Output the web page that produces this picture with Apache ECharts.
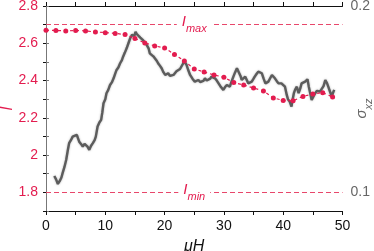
<!DOCTYPE html>
<html>
<head>
<meta charset="utf-8">
<script src="https://cdn.jsdelivr.net/npm/echarts@6/dist/echarts.min.js"></script>
<style>html,body{margin:0;padding:0;background:#fff}#c{width:374px;height:251px}</style>
</head>
<body>
<div id="c"></div>
<script>
// I (left axis) sampled every 5/3 of muH
const iX = [0,1.667,3.333,5,6.667,8.333,10,11.667,13.333,15,16.667,18.333,20,21.667,23.333,25,26.667,28.333,30,31.667,33.333,35,36.667,38.333,40,41.667,43.333,45,46.667,48.333];
const iY = [2.670,2.669,2.666,2.669,2.666,2.661,2.657,2.653,2.647,2.626,2.602,2.586,2.575,2.540,2.505,2.462,2.446,2.430,2.418,2.389,2.376,2.360,2.344,2.307,2.293,2.291,2.315,2.328,2.335,2.312];
// sigma_xz (right axis)
const sX = [1.4,1.7,2.0,2.3,2.6,2.8,3.1,3.4,3.7,3.9,4.2,4.5,4.8,5.2,5.4,5.6,5.9,6.2,6.5,6.7,7.0,7.3,7.6,7.9,8.2,8.4,8.7,9.0,9.3,9.5,9.7,10.0,10.2,10.5,10.8,11.1,11.4,11.7,11.9,12.2,12.5,12.8,13.0,13.3,13.6,13.9,14.2,14.5,14.7,14.9,15.1,15.3,15.6,15.9,16.1,16.4,16.7,17.0,17.3,17.5,17.8,18.1,18.4,18.7,18.9,19.2,19.5,19.8,20.1,20.4,20.6,20.9,21.2,21.5,21.8,22.0,22.3,22.6,22.9,23.1,23.3,23.5,23.7,24.0,24.3,24.7,25.1,25.4,25.7,26.0,26.3,26.6,26.8,27.1,27.4,27.7,27.9,28.2,28.5,28.8,29.1,29.5,29.9,30.2,30.5,30.8,31.0,31.3,31.6,31.9,32.2,32.5,32.8,33.0,33.3,33.6,33.9,34.1,34.4,34.7,35.0,35.2,35.5,35.8,36.1,36.4,36.7,37.0,37.2,37.5,37.8,38.1,38.3,38.6,38.9,39.2,39.5,39.7,40.0,40.3,40.6,40.8,41.1,41.4,41.6,41.8,42.0,42.3,42.6,42.9,43.1,43.4,43.7,44.1,44.3,44.5,44.8,45.1,45.4,45.7,46.0,46.2,46.5,46.8,47.1,47.4,47.6,47.9,48.2,48.4,48.6];
const sY = [.1088,.1070,.1045,.1060,.1080,.1103,.1135,.1174,.1230,.1264,.1280,.1299,.1295,.1308,.1290,.1272,.1260,.1246,.1260,.1264,.1245,.1228,.1250,.1264,.1280,.1299,.1353,.1375,.1389,.1430,.1478,.1500,.1532,.1550,.1576,.1590,.1612,.1640,.1657,.1670,.1693,.1710,.1728,.1750,.1773,.1800,.1827,.1845,.1854,.1840,.1862,.1850,.1844,.1830,.1827,.1815,.1809,.1790,.1773,.1746,.1737,.1730,.1728,.1705,.1693,.1680,.1666,.1645,.1630,.1640,.1639,.1625,.1621,.1630,.1639,.1650,.1657,.1662,.1666,.1690,.1710,.1695,.1684,.1655,.1630,.1610,.1594,.1600,.1603,.1592,.1585,.1600,.1612,.1600,.1594,.1610,.1621,.1615,.1612,.1600,.1585,.1565,.1550,.1565,.1576,.1570,.1567,.1595,.1621,.1645,.1666,.1657,.1625,.1603,.1612,.1621,.1600,.1585,.1590,.1594,.1610,.1621,.1635,.1648,.1642,.1639,.1610,.1585,.1590,.1594,.1612,.1630,.1620,.1612,.1598,.1585,.1595,.1585,.1585,.1567,.1523,.1500,.1487,.1460,.1500,.1532,.1550,.1567,.1532,.1560,.1585,.1590,.1594,.1607,.1570,.1540,.1496,.1515,.1532,.1545,.1550,.1540,.1532,.1570,.1603,.1585,.1567,.1540,.1514,.1535,.1550];
const iMax = 2.7, iMin = 1.8;

const RED = '#e31c4f', DASH = '#e8476b', GRAY = '#5c5c5c', FONT = 'Liberation Sans';
const chart = echarts.init(document.getElementById('c'), null, {renderer: 'canvas'});
const subRich = (c) => ({
  a: {fontSize: 15, lineHeight: 20, fontStyle: 'italic', fontFamily: FONT, color: c, verticalAlign: 'top'},
  b: {fontSize: 11, lineHeight: 20, fontStyle: 'italic', fontFamily: FONT, color: c, verticalAlign: 'bottom'}
});
const xBase = {
  type: 'value', min: 0, max: 50, interval: 10,
  splitLine: {show: false},
  axisLine: {lineStyle: {color: '#111', width: 1}},
  axisTick: {length: 4, lineStyle: {color: '#111'}},
  minorTick: {show: true, splitNumber: 2, length: 4, lineStyle: {color: '#111'}}
};
const mlStyle = {color: DASH, width: 1.2, type: [5, 3]};
const mlLabel = (txt) => ({
  show: true, position: 'middle', formatter: txt, rich: subRich(RED),
  backgroundColor: '#fff', padding: [0, 5], distance: 0, verticalAlign: 'middle'
});
chart.setOption({
  animation: false,
  grid: {left: 46, right: 31.5, top: 6, bottom: 40, outerBoundsMode: 'none', containLabel: false},
  xAxis: [
    Object.assign({}, xBase, {
      position: 'bottom',
      axisLabel: {fontSize: 14, fontFamily: FONT, color: '#111', margin: 8},
      name: 'μH', nameLocation: 'middle', nameGap: 28, nameMoveOverlap: false,
      nameTextStyle: {fontSize: 16, fontStyle: 'italic', fontFamily: FONT, color: '#111'}
    }),
    Object.assign({}, xBase, {position: 'top', axisLabel: {show: false}})
  ],
  yAxis: [
    {
      type: 'value', min: 1.7, max: 2.8, interval: 0.1, position: 'left',
      splitLine: {show: false},
      axisLine: {show: true, lineStyle: {color: '#111'}},
      axisTick: {length: 3, lineStyle: {color: '#111'}},
      axisLabel: {fontSize: 14, fontFamily: FONT, color: RED, margin: 8,
        formatter: v => (Math.round(v * 10) % 2 === 0 ? String(+v.toFixed(1)) : '')},
      name: 'I', nameLocation: 'middle', nameGap: 30, nameMoveOverlap: false,
      nameTextStyle: {fontSize: 16, fontStyle: 'italic', fontFamily: FONT, color: RED}
    },
    {
      type: 'value', min: 0.09, max: 0.2, interval: 0.01, position: 'right',
      splitLine: {show: false},
      axisLine: {show: true, lineStyle: {color: '#777'}},
      axisTick: {length: 3, lineStyle: {color: '#777'}},
      axisLabel: {fontSize: 14, fontFamily: FONT, color: '#666', margin: 8,
        formatter: v => (Math.round(v * 100) % 10 === 0 ? v.toFixed(1) : '')},
      name: '{a|σ}{b|xz}', nameLocation: 'middle', nameGap: 12, nameRotate: 90, nameMoveOverlap: false,
      nameTextStyle: {rich: subRich('#666')}
    }
  ],
  series: [
    {
      type: 'line', yAxisIndex: 1, showSymbol: false, z: 2,
      data: sX.map((x, k) => [x, sY[k]]),
      lineStyle: {color: GRAY, width: 2.4, shadowColor: 'rgba(90,90,90,0.5)', shadowBlur: 2},
      silent: true
    },
    {
      type: 'line', yAxisIndex: 0, z: 3,
      data: iX.map((x, k) => [x, iY[k]]),
      symbol: 'circle', symbolSize: 5,
      itemStyle: {color: RED},
      lineStyle: {color: RED, width: 1.2, type: [3, 3]},
      markLine: {
        silent: true, symbol: 'none',
        lineStyle: mlStyle,
        data: [
          {yAxis: iMax, lineStyle: mlStyle, label: mlLabel('{a|I}{b|max}')},
          {yAxis: iMin, lineStyle: mlStyle, label: mlLabel('{a|I}{b|min}')}
        ]
      }
    }
  ]
});
</script>
</body>
</html>
